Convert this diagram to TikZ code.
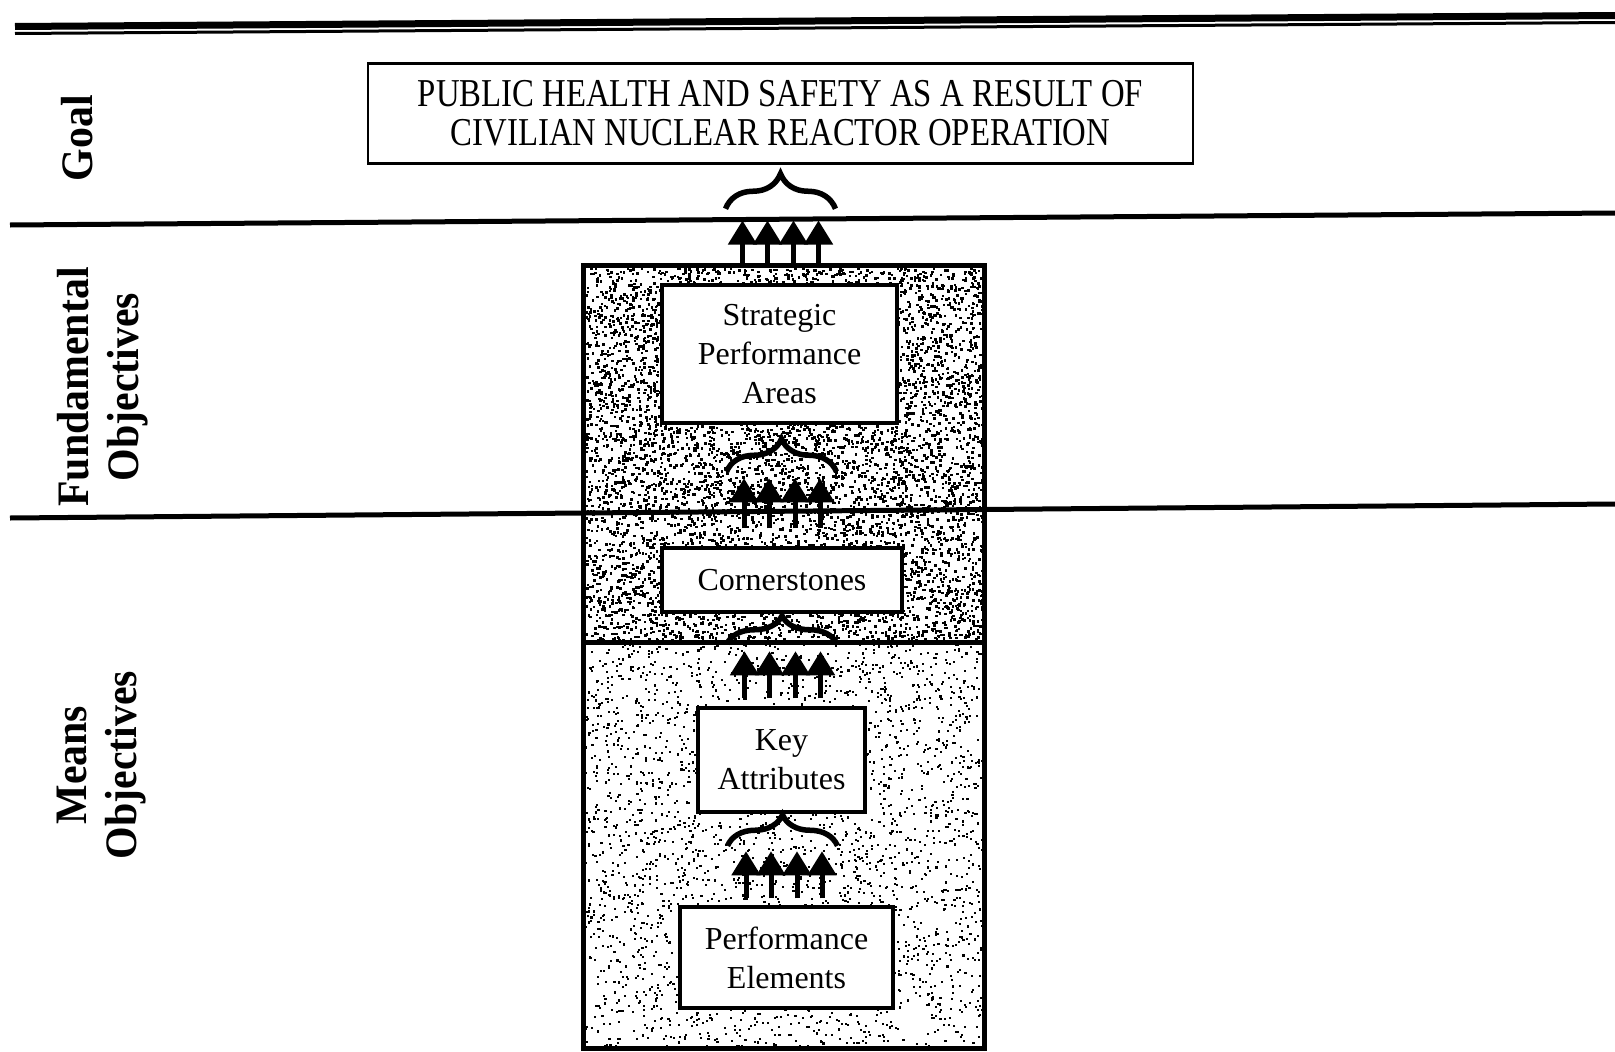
\documentclass[tikz,border=0pt]{standalone}
\usepackage{fontspec}
\setmainfont{Liberation Serif}
\newfontfamily\goalfont[FakeStretch=0.83]{Liberation Serif}
\newfontfamily\sidefont[FakeStretch=0.93]{Liberation Serif}
\usetikzlibrary{calc}
\usetikzlibrary{arrows.meta,decorations.pathreplacing,positioning}

\begin{document}
\begin{tikzpicture}[x=1pt,y=-1pt,
    box/.style={draw,line width=3.5pt,fill=white,align=center,inner sep=0pt,font=\fontsize{32}{39}\selectfont},
    section/.style={draw,line width=5pt,inner sep=0pt,minimum width=401pt},
    lbl/.style={rotate=90,align=center,font=\sidefont\bfseries\fontsize{45}{50}\selectfont},
    uparrow/.style={line width=5pt,-{Triangle[width=28pt,length=24pt]}},
    curly/.style={decorate,decoration={brace,amplitude=#1},line width=5.5pt}]
    \useasboundingbox (0,0) rectangle (1615,1052);

    \draw[line width=7pt] (15,26.5) -- (1615,15.5); % top rule
    \draw[line width=3pt] (15,33.5) -- (1615,22.5);

    % stipple of the column
    \begin{scope}
        \clip (585,267) rectangle (982,1046);
        \pgfmathsetseed{17}
        \foreach \i in {1,...,7000}
            \fill ({585+397*rnd},{267+375*rnd}) rectangle ++(2.5,2.5);
        \foreach \i in {1,...,3000}
            \fill ({585+397*rnd},{642+404*rnd}) rectangle ++(2.1,2.1);
    \end{scope}

    \draw[line width=5pt] (10,225) -- (1615,213); % goal / fundamental
    \draw[line width=5pt] (10,518) -- (1615,504); % fundamental / means

    \node[section,minimum height=377pt] (fund) at (783.5,453.5) {};
    \node[section,minimum height=406pt] (means) at (783.5,845) {};

    \node[box,line width=2.5pt,minimum width=825pt,minimum height=100pt,
        font=\goalfont\fontsize{39.5}{39}\selectfont] (goal) at (780.5,113.5)
        {PUBLIC HEALTH AND SAFETY AS A RESULT OF\\CIVILIAN NUCLEAR REACTOR OPERATION};

    \node[box,minimum width=235pt,minimum height=138pt] (spa) at (779.5,354) {Strategic\\Performance\\Areas};
    \node[box,minimum width=240pt,minimum height=64pt] (cs) at (782,580) {Cornerstones};
    \node[box,minimum width=167pt,minimum height=104pt] (ka) at (781.5,760) {Key\\Attributes};
    \node[box,minimum width=213pt,minimum height=101pt] (pe) at (786.5,957.5) {Performance\\Elements};

    % braces under each box
    \draw[curly=35pt] ($(goal.south)+(-55,44)$) -- ($(goal.south)+(55,44)$);
    \draw[curly=33pt] ($(spa.south)+(-53,47)$) -- ($(spa.south)+(57,47)$);
    \draw[curly=28pt] ($(cs.south)+(-55,30)$) -- ($(cs.south)+(55,30)$);
    \draw[curly=31pt] ($(ka.south)+(-54,32)$) -- ($(ka.south)+(56,32)$);

    % arrows up to the braces
    \foreach \d in {-38,-13,13,38} {
        \draw[uparrow] ($(fund.north)+(\d-3,0)$) -- ++(0,-42);
        \draw[uparrow] ($(cs.north)+(\d,-18)$) -- ++(0,-50);
        \draw[uparrow] ($(ka.north)+(\d+1,-8)$) -- ++(0,-47);
        \draw[uparrow] ($(pe.north)+(\d-2.5,-7)$) -- ++(0,-47);
    }

    \node[lbl] (goallbl) at (77,138) {Goal};
    \node[lbl] (fundlbl) at (103,387) {Fundamental\\Objectives};
    \node[lbl] (meanslbl) at (102,765) {Means\\Objectives};
\end{tikzpicture}
\end{document}
